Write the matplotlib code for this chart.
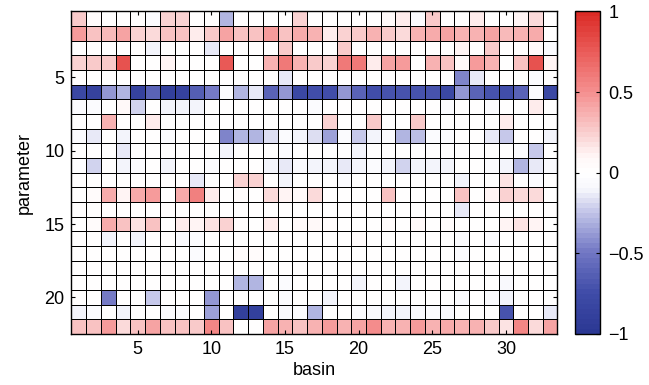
import matplotlib
matplotlib.use('Agg')
import matplotlib.pyplot as plt
import numpy as np
from matplotlib.colors import LinearSegmentedColormap

# basin / parameter indices
basins = list(range(1, 34))
parameters = list(range(1, 23))

# correlation per parameter (row) and basin (column)
corr = [
    [0.25, 0.06, 0, 0, 0, -0.05, 0.22, 0.22, 0, 0, -0.3,
     0, 0, 0, 0, 0.22, 0, 0, 0, 0, 0, 0.07,
     0.15, -0.04, 0.25, 0, 0, 0.15, 0, 0, 0.1, 0.2, 0],
    [0.45, 0.3, 0.33, 0.42, 0.22, 0.2, 0.3, 0.3, 0.15, 0.25, 0.42,
     0.3, 0.3, 0.45, 0.3, 0.4, 0.35, 0.15, 0.22, 0.28, 0.35, 0.25,
     0.2, 0.35, 0.38, 0.42, 0.35, 0.35, 0.42, 0.33, 0.35, 0.38, 0],
    [0, 0, 0, 0, 0, -0.12, 0, 0, 0, -0.15, 0,
     0, 0, 0, 0.25, 0, 0, 0, 0.25, 0, 0, 0,
     0, 0, 0, 0, 0.12, 0, 0.25, 0, 0, 0.08, -0.05],
    [0.22, 0.28, 0.25, 0.8, 0, 0, 0.1, 0, 0, 0, 0.75,
     0, 0, 0.35, 0.6, 0.35, 0.25, 0.22, 0.62, 0.62, 0.15, 0.42,
     0.45, 0, 0.35, 0.3, 0.08, 0.45, 0.35, 0, 0.3, 0.8, 0.12],
    [0, 0, 0, 0, 0, 0, 0, 0, 0, 0, 0,
     0, 0, 0, -0.15, 0, 0, 0, 0, 0, 0, 0,
     0, 0, 0, 0, -0.45, -0.15, 0, 0, 0, -0.04, 0],
    [-0.8, -0.85, -0.4, -0.3, -0.85, -0.6, -0.9, -0.85, -0.65, -0.5, -0.04,
     -0.3, -0.15, -0.6, -0.4, -0.8, -0.75, -0.75, -0.4, -0.6, -0.75, -0.7,
     -0.7, -0.7, -0.7, -0.8, -0.4, -0.6, -0.7, -0.72, -0.6, -0.05, -0.8],
    [-0.06, -0.06, 0, 0.08, -0.2, 0, -0.1, -0.12, -0.12, 0, 0,
     0, 0, 0, 0, 0, -0.05, 0, 0, 0, 0, 0,
     0, 0, 0, -0.05, 0, 0, -0.05, 0, 0, 0.15, 0],
    [0, 0, 0.35, 0, 0, 0.15, 0, 0, 0, 0, 0,
     0, 0, 0, 0, 0, 0, 0.22, 0, 0, 0.25, 0,
     0, 0.25, 0, 0, 0, 0, 0, 0.15, 0, 0, 0],
    [-0.06, -0.15, 0, -0.1, 0, 0, -0.05, 0, 0, 0, -0.45,
     -0.3, -0.3, -0.18, -0.06, -0.12, -0.18, -0.35, -0.05, -0.25, -0.12, -0.06,
     -0.3, -0.28, -0.05, -0.06, 0, 0, -0.15, -0.22, 0, 0, -0.12],
    [0, 0, 0, -0.15, 0, 0, 0, 0, 0, 0, -0.1,
     0, 0, 0, -0.05, 0, 0, 0, 0, -0.1, 0, 0,
     0, 0, 0, 0, 0, 0, 0, 0, -0.06, -0.25, 0],
    [-0.03, -0.2, 0, -0.12, -0.06, 0, -0.12, 0, 0, -0.06, 0,
     0, 0, -0.12, -0.15, -0.08, -0.1, -0.1, -0.15, -0.12, -0.05, -0.12,
     -0.2, -0.1, -0.1, -0.1, 0, 0, -0.05, -0.1, -0.3, -0.15, -0.08],
    [0, 0, 0, 0, 0, 0, 0, 0, -0.15, 0, 0,
     0.22, 0.22, 0, -0.12, 0, 0, 0, -0.04, 0, 0, 0,
     0, 0, 0, 0, -0.12, 0, 0, 0.18, 0, -0.05, 0],
    [0, 0.06, 0.4, 0.12, 0.4, 0.45, 0, 0.38, 0.58, 0.15, 0,
     0.05, 0, 0.2, 0.12, 0.08, 0.2, 0, 0, 0, 0, 0.3,
     0, 0, 0, 0, 0.3, 0, 0.1, 0.22, 0.2, 0.2, 0],
    [0, 0, 0, 0, 0, 0, 0, 0, 0, 0, 0,
     0, 0, 0, 0, 0, 0, 0, 0, 0, 0, 0,
     0, 0, 0, 0, -0.15, 0, 0, 0, 0, 0, 0],
    [0, 0.06, 0.4, 0.3, 0.18, 0.3, 0, 0.15, 0.12, 0.18, 0.22,
     0.05, 0, 0.15, 0, 0.08, 0.08, 0.05, 0, 0, 0, 0.05,
     0, 0.08, 0, 0.06, 0, 0, 0, 0.12, 0.18, 0.12, 0],
    [0, 0, -0.1, 0, -0.1, 0, 0, -0.08, -0.06, 0, 0,
     0, 0, 0, 0, 0, 0, 0, 0, 0.05, 0, 0,
     0, 0, 0, 0, -0.05, 0, -0.06, 0, 0, 0, 0],
    [0, 0, 0, 0, 0, 0, 0, 0, -0.04, 0, 0,
     0.05, 0.04, 0, 0, 0, 0, 0, 0, 0, 0, 0,
     0, 0, 0, 0, -0.04, 0, 0, 0, 0, 0, 0],
    [0, 0, 0, 0, 0, 0, 0, 0, 0, 0, 0,
     0, 0, 0, 0, 0, 0, 0, 0, 0, 0, 0,
     0, 0, 0, 0, 0, 0, 0, 0, 0, 0, 0],
    [0, 0, 0, 0, 0, 0, 0, 0, 0, 0, 0,
     -0.3, -0.3, 0, -0.06, 0, 0, 0, 0, -0.12, 0, 0,
     -0.1, 0, 0, 0, 0, 0, 0, -0.08, 0, 0, 0],
    [0, 0, -0.5, 0, 0, -0.25, 0, 0, 0, -0.4, 0,
     0, 0, 0, -0.06, 0, 0, -0.12, 0, 0, 0, 0,
     0, 0, 0, 0, -0.05, 0, -0.06, -0.1, 0, 0, 0],
    [-0.1, -0.06, 0, -0.12, 0, 0, -0.04, -0.06, 0, -0.35, 0,
     -0.9, -0.9, 0, -0.08, -0.05, -0.3, 0, 0, -0.06, -0.08, -0.1,
     -0.12, -0.08, -0.05, -0.08, 0, 0, 0, -0.7, 0, 0, -0.15],
    [0.3, 0.3, 0.45, 0.2, 0.3, 0.42, 0.3, 0.3, 0.25, 0.55, 0.3,
     0, 0, 0.42, 0.35, 0.3, 0.35, 0.45, 0.35, 0.42, 0.5, 0.35,
     0.35, 0.45, 0.35, 0.4, 0.35, 0.35, 0.28, 0.18, 0.55, 0.2, 0.42],
]

x_ticks = [5, 10, 15, 20, 25, 30]
y_ticks = [5, 10, 15, 20]
cbar_ticks = [-1, -0.5, 0, 0.5, 1]
cbar_labels = ['\u22121', '\u22120.5', '0', '0.5', '1']

# blue - white - red map with a wide white band round zero
nodes = [
    (0.0, (0.17, 0.22, 0.58)),
    (0.125, (0.25, 0.30, 0.66)),
    (0.25, (0.45, 0.47, 0.77)),
    (0.375, (0.76, 0.77, 0.91)),
    (0.45, (0.97, 0.97, 0.99)),
    (0.5, (1.0, 1.0, 1.0)),
    (0.55, (1.0, 0.97, 0.97)),
    (0.625, (0.98, 0.81, 0.81)),
    (0.75, (0.96, 0.57, 0.57)),
    (0.875, (0.92, 0.37, 0.36)),
    (1.0, (0.86, 0.17, 0.15)),
]
cmap = LinearSegmentedColormap.from_list('bwr_matlab', nodes, N=64)

plt.rcParams['font.family'] = ['Liberation Sans', 'DejaVu Sans']

fig = plt.figure(figsize=(6.49, 3.85), dpi=100)
ax = fig.add_axes([0.110, 0.1325, 0.749, 0.838])
cax = fig.add_axes([0.886, 0.1325, 0.0385, 0.838])

data = np.array(corr)
x_edges = np.arange(len(basins) + 1) + 0.5
y_edges = np.arange(len(parameters) + 1) + 0.5
mesh = ax.pcolormesh(x_edges, y_edges, data, cmap=cmap, vmin=-1, vmax=1,
                     edgecolors='k', linewidth=0.7)
ax.set_xlim(0.5, len(basins) + 0.5)
ax.set_ylim(len(parameters) + 0.5, 0.5)

ax.set_xticks(x_ticks)
ax.set_yticks(y_ticks)
ax.tick_params(direction='in', length=3, width=0.8, top=True, right=True,
               labelsize=13, pad=5)
for s in ax.spines.values():
    s.set_linewidth(1.0)
ax.set_xlabel('basin', fontsize=13, labelpad=3)
ax.set_ylabel('parameter', fontsize=13, labelpad=8)

cb = fig.colorbar(mesh, cax=cax, ticks=cbar_ticks)
cb.ax.set_yticklabels(cbar_labels)
cb.ax.tick_params(direction='in', length=3, width=0.8, left=True, right=True,
                  labelsize=13, pad=6)
cb.outline.set_linewidth(1.0)

fig.savefig('out.png', dpi=100)
